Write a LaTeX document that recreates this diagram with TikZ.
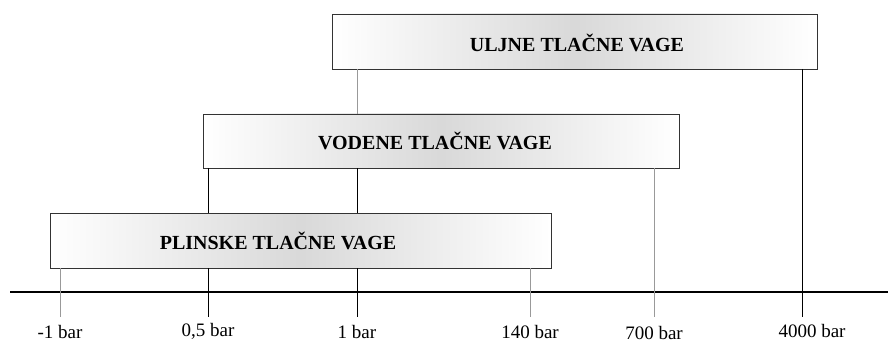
\documentclass[tikz,border=0pt]{standalone}
\usepackage{fontspec}
\setmainfont{Liberation Serif}
\begin{document}
\begin{tikzpicture}[x=1pt,y=-1pt,
  band/.style={draw=black!80, line width=0.9pt, left color=white, right color=white, middle color=black!15},
  title/.style={font=\fontsize{20}{23}\selectfont\bfseries, text=black, inner sep=0pt, anchor=base},
  blackline/.style={draw=black, line width=0.8pt},
  grayline/.style={draw=black!40, line width=1pt},
  axisline/.style={draw=black, line width=1.6pt},
  ticklabel/.style={font=\fontsize{19}{22}\selectfont, inner sep=0pt, anchor=base}
]
\useasboundingbox (0,0) rectangle (888,342);
% boxes
\shade[band] (332,14) rectangle (817,69);
\shade[band] (203,114) rectangle (679,168);
\shade[band] (50,213) rectangle (551,268);
\node[title] (uljne) at (577,52) {ULJNE TLAČNE VAGE};
\node[title] (vodene) at (435,149) {VODENE TLAČNE VAGE};
\node[title] (plinske) at (278,249) {PLINSKE TLAČNE VAGE};
% axis
\coordinate (axL) at (10,292);
\coordinate (axR) at (888,292);
\draw[axisline] (axL) -- (axR);
% tick end points
\coordinate (t1) at (60,317);
\coordinate (t2) at (208,317);
\coordinate (t3) at (357,317);
\coordinate (t4) at (530,317);
\coordinate (t5) at (654,317);
\coordinate (t6) at (802,317);
% connectors
\draw[grayline] (357,69) -- (357,114);
\draw[blackline] (802,69) -- (t6);
\draw[blackline] (208,168) -- (208,213);
\draw[blackline] (357,168) -- (357,213);
\draw[grayline] (654,168) -- (t5);
\draw[grayline] (60,268) -- (t1);
\draw[blackline] (208,268) -- (t2);
\draw[blackline] (357,268) -- (t3);
\draw[grayline] (530,268) -- (t4);
% labels
\node[ticklabel] (l1) at (60,338) {-1 bar};
\node[ticklabel] (l2) at (208,336) {0,5 bar};
\node[ticklabel] (l3) at (357,338) {1 bar};
\node[ticklabel] (l4) at (530,338) {140 bar};
\node[ticklabel] (l5) at (654,339) {700 bar};
\node[ticklabel] (l6) at (812,337) {4000 bar};
\end{tikzpicture}
\end{document}
